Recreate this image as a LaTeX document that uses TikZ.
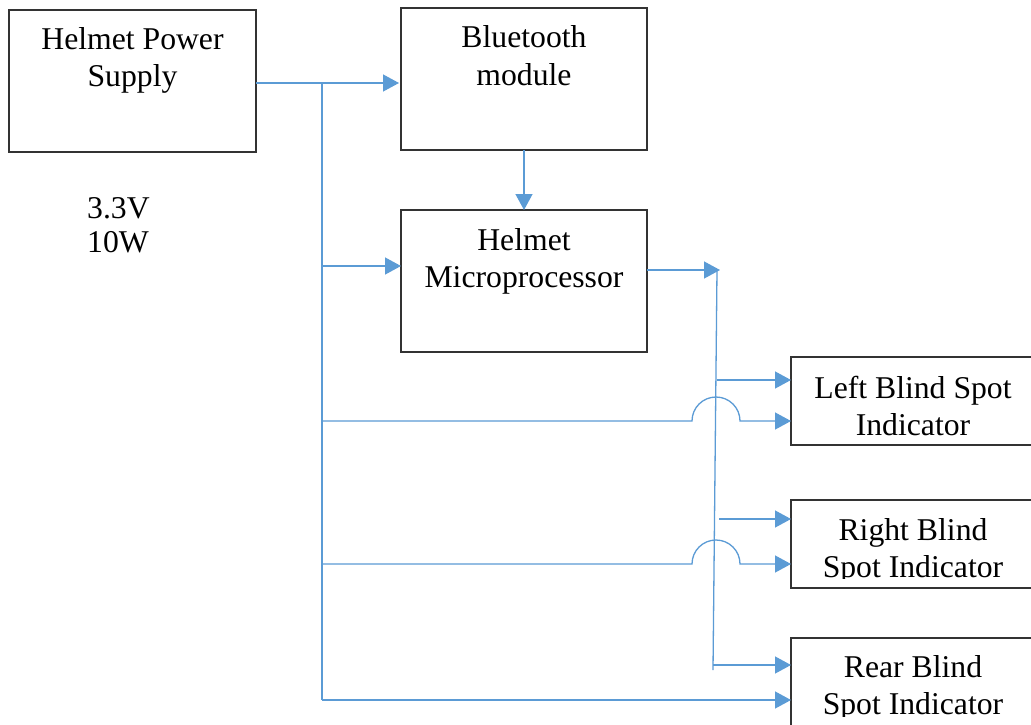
\documentclass[tikz,border=0pt]{standalone}
\usepackage{fontspec}
\setmainfont{Liberation Serif}
\usetikzlibrary{arrows.meta}
\definecolor{wireblue}{RGB}{91,155,213}
\begin{document}
\begin{tikzpicture}[x=1pt,y=-1pt,
  box/.style={draw=black!80,line width=1.3pt,inner sep=0pt,outer sep=0pt,anchor=north west},
  lbl/.style={font=\fontsize{31.7}{37}\selectfont,inner sep=0pt,anchor=base},
  wire/.style={draw=wireblue,line width=1.3pt},
  arr/.style={wire,-{Triangle[length=16pt,width=17pt]}}]
\useasboundingbox (0,0) rectangle (1031,725);
\clip (0,0) rectangle (1031,725);
\fill[white] (0,0) rectangle (1031,725);
% boxes
\node[box,minimum width=247pt,minimum height=142pt] (ps) at (9,10) {};
\node[box,minimum width=246pt,minimum height=142pt] (bt) at (401,8) {};
\node[box,minimum width=246pt,minimum height=142pt] (mp) at (401,210) {};
\node[box,minimum width=245pt,minimum height=88pt] (lb) at (791,357) {};
\node[box,minimum width=245pt,minimum height=88pt] (rb) at (791,500) {};
\node[box,minimum width=245pt,minimum height=100pt] (rr) at (791,638) {};
% labels
\node[lbl] (ps1) at (132.5,50) {Helmet Power};
\node[lbl] (ps2) at (132.5,87) {Supply};
\node[lbl] (bt1) at (524,48) {Bluetooth};
\node[lbl] (bt2) at (524,85) {module};
\node[lbl] (mp1) at (524,250) {Helmet};
\node[lbl] (mp2) at (524,287) {Microprocessor};
\node[lbl] (lb1) at (913,398) {Left Blind Spot};
\node[lbl] (lb2) at (913,435) {Indicator};
\begin{scope}
\clip (791,500) rectangle (1031,578);
\node[lbl] (rb1) at (913,540) {Right Blind};
\node[lbl] (rb2) at (913,577) {Spot Indicator};
\end{scope}
\begin{scope}
\clip (791,638) rectangle (1031,716);
\node[lbl] (rr1) at (913,677) {Rear Blind};
\node[lbl] (rr2) at (913,714) {Spot Indicator};
\end{scope}
\node[lbl,anchor=base west] (v1) at (87,218) {3.3V};
\node[lbl,anchor=base west] (v2) at (87,252) {10W};
% power trunk
\coordinate (t0) at (322,83);
\coordinate (t1) at (322,266);
\coordinate (t2) at (322,421);
\coordinate (t3) at (322,564);
\coordinate (t4) at (322,700);
\draw[arr] (ps.east |- t0) -- ([xshift=-2pt]bt.west |- t0);
\draw[wire] (t0) -- (t4);
\draw[arr] (t1) -- (mp.west |- t1);
\draw[arr] (t2) -- (692,421) arc[start angle=180,end angle=0,radius=24pt] -- (lb.west |- t2);
\draw[arr] (t3) -- (692,564) arc[start angle=180,end angle=0,radius=24pt] -- (rb.west |- t3);
\draw[arr] (t4) -- (rr.west |- t4);
% data bus
\draw[arr] (bt.south) -- (mp.north);
\coordinate (d0) at (717,270);
\coordinate (d1) at (713,670);
\draw[arr] (mp.east |- d0) -- ([xshift=3pt]d0);
\draw[wire] (d0) -- (d1);
\coordinate (b1) at (717,380);
\coordinate (b2) at (719,519);
\coordinate (b3) at (713,665);
\draw[arr] (b1) -- (lb.west |- b1);
\draw[arr] (b2) -- (rb.west |- b2);
\draw[arr] (b3) -- (rr.west |- b3);
\end{tikzpicture}
\end{document}
